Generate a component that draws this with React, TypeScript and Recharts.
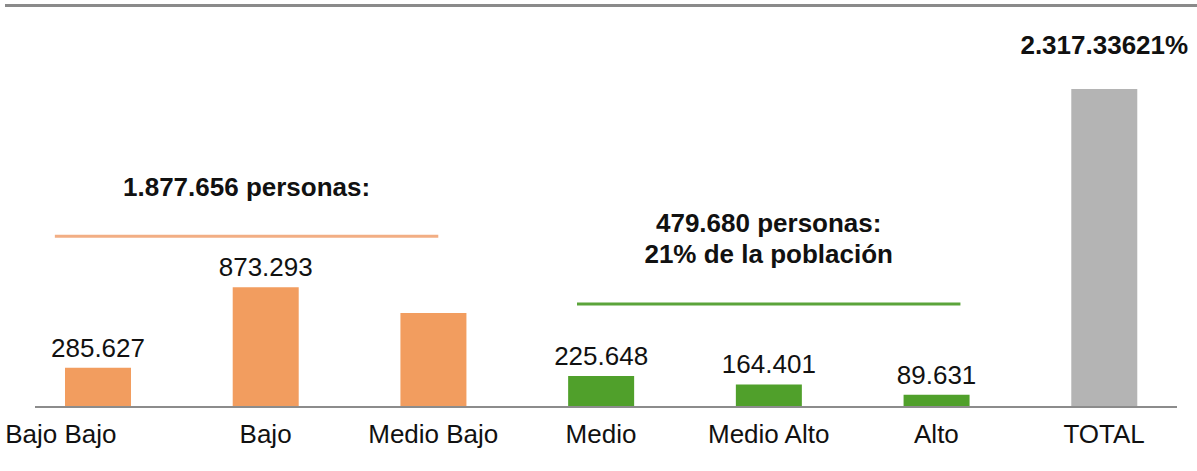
import React from "react";
import { BarChart, Bar, XAxis, YAxis, Cell, LabelList, ReferenceLine } from "recharts";

const categories = ["Bajo Bajo", "Bajo", "Medio Bajo", "Medio", "Medio Alto", "Alto", "TOTAL"];
const values = [285627, 873293, 685000, 225648, 164401, 89631, 2317336];
const valueLabels = ["285.627", "873.293", "", "225.648", "164.401", "89.631", "2.317.33621%"];
const barColors = ["#F29D5F", "#F29D5F", "#F29D5F", "#50A02B", "#50A02B", "#50A02B", "#B4B4B4"];
const groupTitleLow = "1.877.656 personas:";
const groupTitleHigh = ["479.680 personas:", "21% de la población"];
const lowLineLevel = 1244000;
const highLineLevel = 750000;

const data = categories.map((c, i) => ({ name: c, value: values[i], label: valueLabels[i] }));

const FONT = "'Liberation Sans', Arial, sans-serif";
const FS = 26;

const ValueLabel = (props: any) => {
  const { x, y, width, value, index } = props;
  if (!value) return null;
  const isTotal = index === categories.length - 1;
  return (
    <text
      x={Number(x) + Number(width) / 2}
      y={Number(y) - (isTotal ? 35 : 11)}
      textAnchor="middle"
      fontFamily={FONT}
      fontSize={FS}
      fontWeight={isTotal ? "bold" : "normal"}
      fill="#111"
    >
      {value}
    </text>
  );
};

const Tick = (props: any) => {
  const { x, y, payload, index } = props;
  const dx = index === 0 ? -37 : 0;
  return (
    <text x={x + dx} y={y + 36} textAnchor="middle" fontFamily={FONT} fontSize={FS} fill="#111">
      {payload.value}
    </text>
  );
};

const lowShape = (p: any) => (
  <g>
    <line x1={p.x1 - 43} y1={p.y1} x2={p.x2 + 5} y2={p.y2} stroke="#F2AE84" strokeWidth={3} />
    <text
      x={(p.x1 - 43 + p.x2 + 5) / 2}
      y={p.y1 - 40}
      textAnchor="middle"
      fontFamily={FONT}
      fontSize={FS}
      fontWeight="bold"
      fill="#111"
    >
      {groupTitleLow}
    </text>
  </g>
);

const highShape = (p: any) => (
  <g>
    <line x1={p.x1 - 24} y1={p.y1} x2={p.x2 + 24} y2={p.y2} stroke="#5BA43A" strokeWidth={3} />
    <text x={(p.x1 + p.x2) / 2} y={p.y1 - 72} textAnchor="middle" fontFamily={FONT} fontSize={FS} fontWeight="bold" fill="#111">
      {groupTitleHigh[0]}
    </text>
    <text x={(p.x1 + p.x2) / 2} y={p.y1 - 41} textAnchor="middle" fontFamily={FONT} fontSize={FS} fontWeight="bold" fill="#111">
      {groupTitleHigh[1]}
    </text>
  </g>
);

const baseShape = (p: any) => (
  <line x1={p.x1 + 21} y1={p.y1} x2={p.x2 - 11} y2={p.y2} stroke="#8C8C8C" strokeWidth={2} />
);

export default function App() {
  return (
    <div style={{ position: "absolute", left: 0, top: 0, width: 1197, height: 471, background: "#fff" }}>
      <div style={{ position: "absolute", left: 5, top: 4, width: 1192, height: 3, background: "#8A8A8A" }} />
      <BarChart
        width={1197}
        height={471}
        data={data}
        margin={{ top: 64, right: 9, bottom: 24, left: 14 }}
      >
        <XAxis
          dataKey="name"
          axisLine={false}
          tickLine={false}
          tickSize={0}
          tickMargin={0}
          height={40}
          interval={0}
          tick={<Tick />}
        />
        <YAxis hide domain={[0, 2500000]} />
        <Bar dataKey="value" barSize={66} isAnimationActive={false}>
          {data.map((d, i) => (
            <Cell key={d.name} fill={barColors[i]} />
          ))}
          <LabelList dataKey="label" content={<ValueLabel />} />
        </Bar>
        <ReferenceLine y={0} shape={baseShape} ifOverflow="visible" />
        <ReferenceLine
          segment={[{ x: "Bajo Bajo", y: lowLineLevel }, { x: "Medio Bajo", y: lowLineLevel }]}
          shape={lowShape}
          ifOverflow="visible"
        />
        <ReferenceLine
          segment={[{ x: "Medio", y: highLineLevel }, { x: "Alto", y: highLineLevel }]}
          shape={highShape}
          ifOverflow="visible"
        />
      </BarChart>
    </div>
  );
}
